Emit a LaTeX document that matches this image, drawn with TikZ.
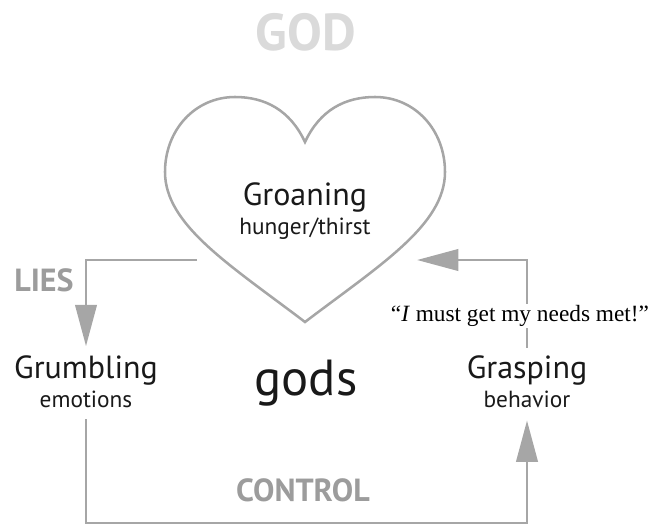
\documentclass[tikz,border=0pt]{standalone}
\usepackage{fontspec}
\setmainfont{PT Sans}
\newfontfamily\quotefont{Liberation Serif}
\usetikzlibrary{arrows.meta}
\definecolor{linegray}{HTML}{A6A6A6}
\definecolor{wordgray}{HTML}{9C9C9C}
\definecolor{godgray}{HTML}{DADADA}
\newcommand{\sub}[1]{\\{\fontsize{17.5}{20}\selectfont #1}}
\tikzset{
  flow/.style={draw=linegray, line width=2.2pt},
  tip/.style={-{Triangle[length=31pt,width=16pt]}},
  stage/.style={align=center, inner sep=0pt, text=black!90, font=\fontsize{24}{22}\selectfont},
  banner/.style={font=\bfseries\fontsize{24}{26}\selectfont, text=wordgray}
}
\begin{document}
\begin{tikzpicture}[x=0.75pt,y=-0.75pt]
        \useasboundingbox (0,0) rectangle (657,525);
        \node[text=godgray, font=\bfseries\fontsize{39}{40}\selectfont] (god) at (306,32) {GOD};
        % the heart
        \draw[flow, line width=1.9pt] (305,142) .. controls (290,110) and (265,97) .. (235,97)
            .. controls (195,97) and (165,130) .. (165,172)
            .. controls (165,225) and (230,265) .. (305,322)
            .. controls (380,265) and (445,225) .. (445,172)
            .. controls (445,130) and (415,97) .. (375,97)
            .. controls (345,97) and (320,110) .. (305,142) -- cycle;
        \node[stage] (groan) at (305,211) {Groaning\sub{hunger/thirst}};
        \node[stage] (grumble) at (86,382) {Grumbling\sub{emotions}};
        \node[stage] (grasp) at (527,382) {Grasping\sub{behavior}};
        \node[stage, font=\fontsize{38}{40}\selectfont] (gods) at (306,383) {gods};
        \node[banner] (lies) at (44,280) {LIES};
        \node[banner] (control) at (303,490) {CONTROL};
        \coordinate (heartL) at (197,260);
        \coordinate (heartR) at (417,260);
        \coordinate (base) at (306,523);
        % the cycle
        \draw[flow, tip, shorten >=7pt] (heartL) -| (grumble.north);
        \draw[flow, shorten <=8pt] (grumble.south) |- (base);
        \draw[flow, tip, shorten >=9pt] (base) -| (grasp.south);
        \draw[flow, tip, shorten <=6pt] (grasp.north) |- (heartR);
        \node[fill=white, inner sep=1pt, font=\quotefont\fontsize{17.5}{19}\selectfont] (quote) at (520,316) {“\textit{I} must get my needs met!”};
\end{tikzpicture}
\end{document}
